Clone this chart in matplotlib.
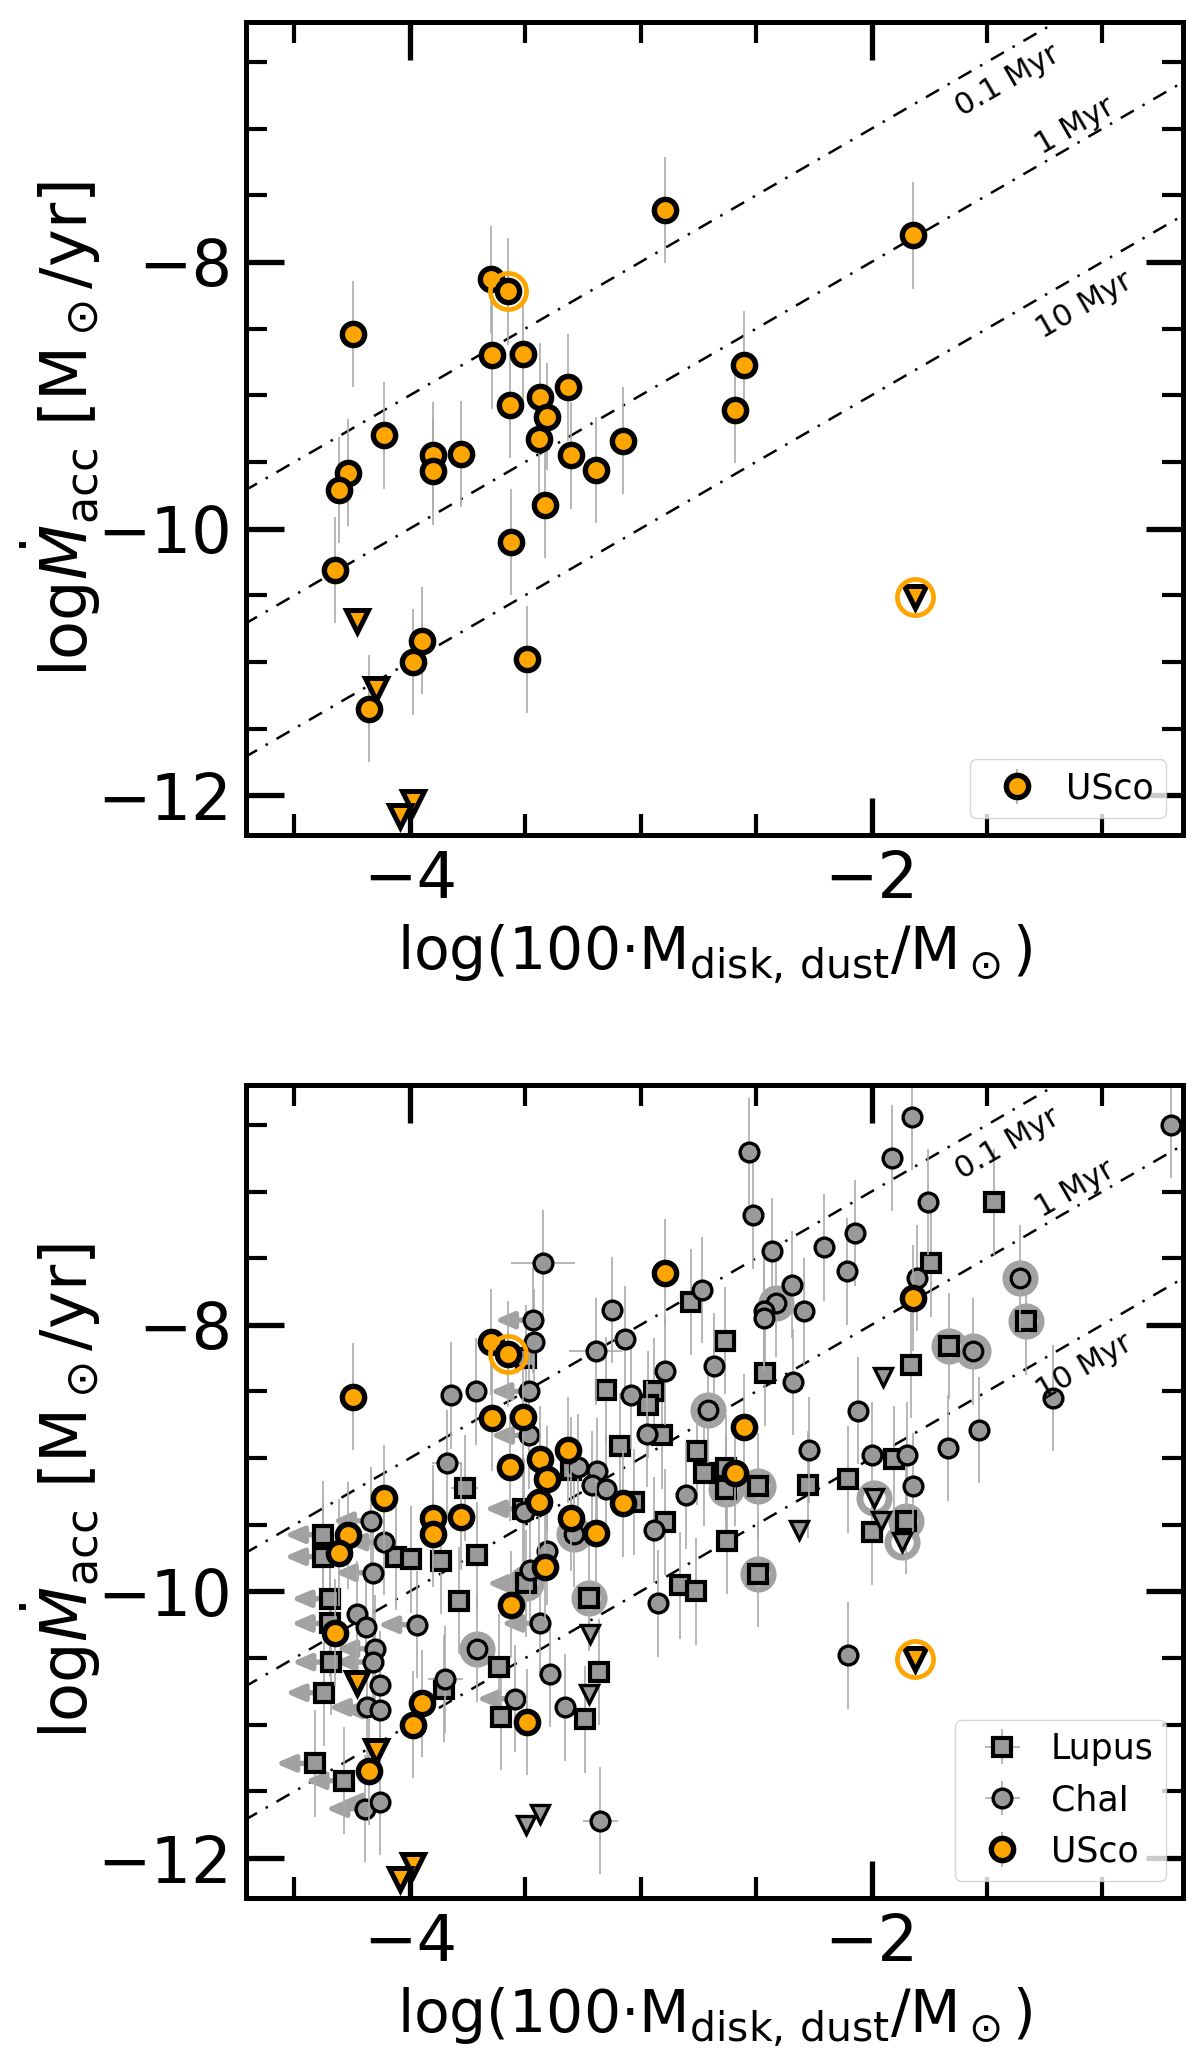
import numpy as np
import matplotlib
matplotlib.use("Agg")
import matplotlib.pyplot as plt
from matplotlib.ticker import MultipleLocator

# ---- data (log disk mass, log accretion rate) ----
usco_x = [-3.648, -3.575, -4.246, -3.645, -3.508, -2.553, -3.435, -3.316, -3.568, -2.593,
          -3.405, -2.894, -1.822, -4.112, -3.902, -3.902, -3.778, -3.440, -3.303, -3.192,
          -3.075, -4.266, -4.306, -3.416, -3.562, -4.323, -3.946, -3.986, -3.492, -4.175]
usco_y = [-8.13, -8.22, -8.54, -8.70, -8.69, -8.77, -9.01, -8.94, -9.07, -9.11,
          -9.16, -7.61, -7.80, -9.30, -9.45, -9.57, -9.44, -9.33, -9.45, -9.56,
          -9.34, -9.58, -9.71, -9.82, -10.10, -10.31, -10.84, -11.00, -10.98, -11.35]
usco_yerr = 0.4
usco_lim_x = [-4.230, -4.148, -3.988, -4.045, -1.810]
usco_lim_y = [-10.69, -11.20, -12.05, -12.16, -10.51]
usco_ring_x = [-3.575, -1.810]
usco_ring_y = [-8.22, -10.51]

chai_x = [-0.704, -1.827, -2.530, -1.913, -2.514, -1.755, -2.205, -2.071, -2.431, -2.108,
          -1.802, -2.346, -2.413, -2.465, -2.465, -2.294, -2.342, -1.355, -1.560, -1.216,
          -2.058, -1.534, -1.671, -2.270, -2.000, -1.846, -1.820,
          -3.424, -3.465, -3.463, -3.485, -3.483, -3.820, -3.713, -3.838, -3.195, -3.123,
          -3.068, -2.736, -2.896, -2.684, -3.042, -2.975, -2.710, -3.273, -3.189, -3.211,
          -3.149, -2.802,
          -4.167, -4.113, -4.159, -4.228, -4.192, -3.971, -4.153, -4.160, -4.130, -4.185,
          -4.130, -4.196, -4.130, -3.846, -3.709, -3.543, -3.437, -3.391, -3.326, -3.175,
          -2.926, -2.944, -3.290, -3.405, -3.478, -3.506, -2.101]
chai_y = [-6.50, -6.44, -6.70, -6.75, -7.18, -7.08, -7.42, -7.31, -7.45, -7.60,
          -7.65, -7.70, -7.84, -7.90, -7.95, -7.90, -8.43, -7.65, -8.20, -8.55,
          -8.645, -8.79, -8.925, -8.94, -8.98, -8.98, -9.21,
          -7.54, -7.965, -8.13, -8.50, -8.83, -8.53, -8.50, -9.04, -8.20, -7.89,
          -8.11, -7.74, -8.35, -8.31, -8.53, -8.82, -8.64, -9.07, -9.10, -9.20,
          -9.23, -9.28,
          -9.47, -9.63, -9.86, -10.17, -10.27, -10.25, -10.43, -10.53, -10.70, -10.87,
          -10.89, -11.63, -11.58, -10.66, -10.43, -10.805, -10.24, -10.62, -10.87, -11.72,
          -10.09, -9.54, -9.57, -9.70, -9.84, -9.405, -10.48]
chai_xerr = [0, 0, 0, 0, 0, 0, 0, 0, 0, 0,
             0, 0, 0, 0, 0, 0, 0, 0, 0, 0,
             0, 0, 0, 0, 0, 0, 0,
             0.14, 0, 0, 0, 0, 0.04, 0, 0.065, 0.115, 0.04,
             0, 0, 0, 0, 0, 0, 0, 0, 0, 0,
             0, 0,
             0, 0, 0, 0, 0, 0, 0, 0, 0, 0,
             0, 0, 0, 0.075, 0, 0, 0, 0, 0, 0.075,
             0, 0, 0, 0, 0, 0, 0]
chai_yerr = 0.4

lupus_x = [-1.469, -1.743, -2.633, -2.460, -1.831, -1.664, -1.329, -2.631, -2.494, -2.274,
           -2.104, -1.902,
           -2.782, -3.149, -2.944, -2.970, -2.908, -3.088, -2.756, -2.727, -3.499, -3.763,
           -3.304,
           -4.375, -4.375, -4.062, -3.994, -3.867, -3.709, -3.509, -3.030, -2.893, -2.828,
           -2.759, -4.346, -4.346, -3.788, -3.499, -3.225, -4.343, -4.372, -3.615, -3.182,
           -3.853, -3.605, -3.240, -4.413, -4.286, -2.628, -2.493, -1.996, -1.851, -2.630]
lupus_y = [-7.08, -7.54, -8.12, -8.36, -8.30, -8.16, -7.975, -9.075, -9.21, -9.20,
           -9.16, -9.01,
           -7.83, -8.49, -8.50, -8.60, -8.83, -8.91, -8.95, -9.11, -8.25, -9.225,
           -9.09,
           -9.575, -9.74, -9.74, -9.76, -9.77, -9.73, -9.38, -9.33, -9.48, -9.955,
           -10.00, -10.055, -10.24, -10.07, -9.94, -10.05, -10.53, -10.76, -10.57, -10.605,
           -10.73, -10.94, -10.96, -11.29, -11.42, -9.62, -9.87, -9.555, -9.47, -9.23]
lupus_xerr = [0, 0, 0, 0, 0, 0, 0, 0, 0, 0,
              0, 0,
              0, 0, 0, 0, 0, 0, 0, 0, 0, 0.06,
              0,
              0, 0, 0, 0, 0, 0, 0, 0, 0, 0,
              0, 0, 0, 0, 0, 0, 0, 0, 0, 0,
              0, 0, 0, 0, 0, 0, 0, 0, 0, 0]
lupus_yerr = 0.4

# upper limits on accretion (Lupus / ChaI)
lim_x = [-1.952, -1.988, -1.960, -1.869, -2.316, -3.221, -3.225, -3.437, -3.495]
lim_y = [-8.39, -9.30, -9.47, -9.63, -9.54, -10.32, -10.77, -11.67, -11.755]

# highlighted objects (grey rings)
ring_x = [-2.413, -2.710, -1.560, -1.355, -1.664, -1.329, -2.494, -2.630, -2.493, -3.290,
          -3.709, -3.225, -1.988, -1.851, -1.869, -3.499]
ring_y = [-7.84, -8.64, -8.20, -7.65, -8.16, -7.975, -9.21, -9.23, -9.87, -9.57,
          -10.43, -10.05, -9.30, -9.47, -9.63, -9.94]

# upper limits on disk mass (left arrows)
arrow_x = [-4.375, -4.375, -4.346, -4.346, -4.343, -4.372, -4.413, -4.286, -3.509, -3.499,
           -4.167, -4.113, -4.159, -3.971, -4.153, -4.160, -4.185, -4.130, -4.196, -4.130,
           -3.465, -3.485, -3.483, -3.543, -3.437]
arrow_y = [-9.575, -9.74, -10.055, -10.24, -10.53, -10.76, -11.29, -11.42, -9.38, -9.94,
           -9.47, -9.63, -9.86, -10.25, -10.43, -10.53, -10.87, -10.89, -11.63, -11.58,
           -7.965, -8.50, -8.83, -10.805, -10.24]
arrow_len = 0.17

ages = [1e5, 1e6, 1e7]
age_labels = ["0.1 Myr", "1 Myr", "10 Myr"]
age_label_pos = [(-1.41, -6.64), (-1.12, -6.98), (-1.08, -8.32)]

orange = "#FFA500"
grey = "#999999"
lightgrey = "#a2a2a2"
errgrey = "#aaaaaa"


def style_axes(ax):
    ax.set_xlim(-4.71, -0.65)
    ax.set_ylim(-12.3, -6.2)
    ax.xaxis.set_major_locator(MultipleLocator(2))
    ax.xaxis.set_minor_locator(MultipleLocator(0.5))
    ax.yaxis.set_major_locator(MultipleLocator(2))
    ax.yaxis.set_minor_locator(MultipleLocator(0.5))
    ax.tick_params(which="both", direction="in", top=True, right=True,
                   labelsize=46, pad=10)
    ax.tick_params(which="major", length=27, width=3.8)
    ax.tick_params(which="minor", length=15, width=3.0)
    for sp in ax.spines.values():
        sp.set_linewidth(3.6)
    ax.set_xlabel("log(100·M$_{\\rm disk,\\,dust}$/M$_\\odot$)", fontsize=42, labelpad=8)
    ax.set_ylabel("log$\\dot{M}_{\\rm acc}$ [M$_\\odot$/yr]", fontsize=46, labelpad=-4)


def age_lines(ax):
    xs = np.array([-5.0, 0.0])
    p1 = ax.transData.transform((-2, -8))
    p2 = ax.transData.transform((-1, -7))
    angle = np.degrees(np.arctan2(p2[1] - p1[1], p2[0] - p1[0]))
    for age, lab, pos in zip(ages, age_labels, age_label_pos):
        ax.plot(xs, xs - np.log10(age), color="k", lw=1.8,
                ls=(0, (6, 4, 1, 4)), zorder=1)
        ax.text(pos[0], pos[1], lab, rotation=angle, ha="center", va="center",
                rotation_mode="anchor", fontsize=22)


def usco(ax):
    ax.errorbar(usco_x, usco_y, yerr=usco_yerr, fmt="o", ms=16, mfc=orange,
                mec="k", mew=3.9, ecolor=errgrey, elinewidth=1.2, zorder=4,
                label="USco")
    ax.plot(usco_lim_x, usco_lim_y, "v", ms=16, mfc=orange, mec="k", mew=3.6,
            zorder=4, ls="none")
    ax.plot(usco_ring_x, usco_ring_y, "o", ms=26, mfc="none", mec=orange,
            mew=3.4, zorder=4.5, ls="none")


fig = plt.figure(figsize=(12, 20.57), dpi=100)
ax1 = fig.add_axes([0.205, 0.594, 0.781, 0.3953])
ax2 = fig.add_axes([0.205, 0.0773, 0.781, 0.3953])

for ax in (ax1, ax2):
    style_axes(ax)
    age_lines(ax)

# top: USco only
usco(ax1)
ax1.legend(loc="lower right", fontsize=25, handletextpad=0.4,
           borderpad=0.35, labelspacing=0.5)

# bottom: Lupus, ChaI and USco
for x, y in zip(arrow_x, arrow_y):
    ax2.annotate("", xy=(x - arrow_len, y), xytext=(x, y),
                 arrowprops=dict(arrowstyle="-|>,head_length=0.75,head_width=0.32",
                                 color=lightgrey, lw=3.8, shrinkA=0, shrinkB=0,
                                 mutation_scale=15),
                 zorder=1.2)
ax2.plot(ring_x, ring_y, "o", ms=21, mfc="white", mec=lightgrey, mew=5,
         ls="none", zorder=1.5)
ax2.errorbar(lupus_x, lupus_y, xerr=lupus_xerr, yerr=lupus_yerr, fmt="s",
             ms=13.5, mfc=grey, mec="k", mew=3.0, ecolor=errgrey,
             elinewidth=1.2, zorder=2, label="Lupus")
ax2.errorbar(chai_x, chai_y, xerr=chai_xerr, yerr=chai_yerr, fmt="o",
             ms=13.5, mfc=grey, mec="k", mew=2.4, ecolor=errgrey,
             elinewidth=1.2, zorder=2.2, label="ChaI")
ax2.plot(lim_x, lim_y, "v", ms=13.5, mfc=grey, mec="k", mew=2.4, ls="none",
         zorder=2.2)
usco(ax2)
ax2.legend(loc="lower right", fontsize=25, handletextpad=0.4,
           borderpad=0.35, labelspacing=0.5)

fig.savefig("out.png", dpi=100)
